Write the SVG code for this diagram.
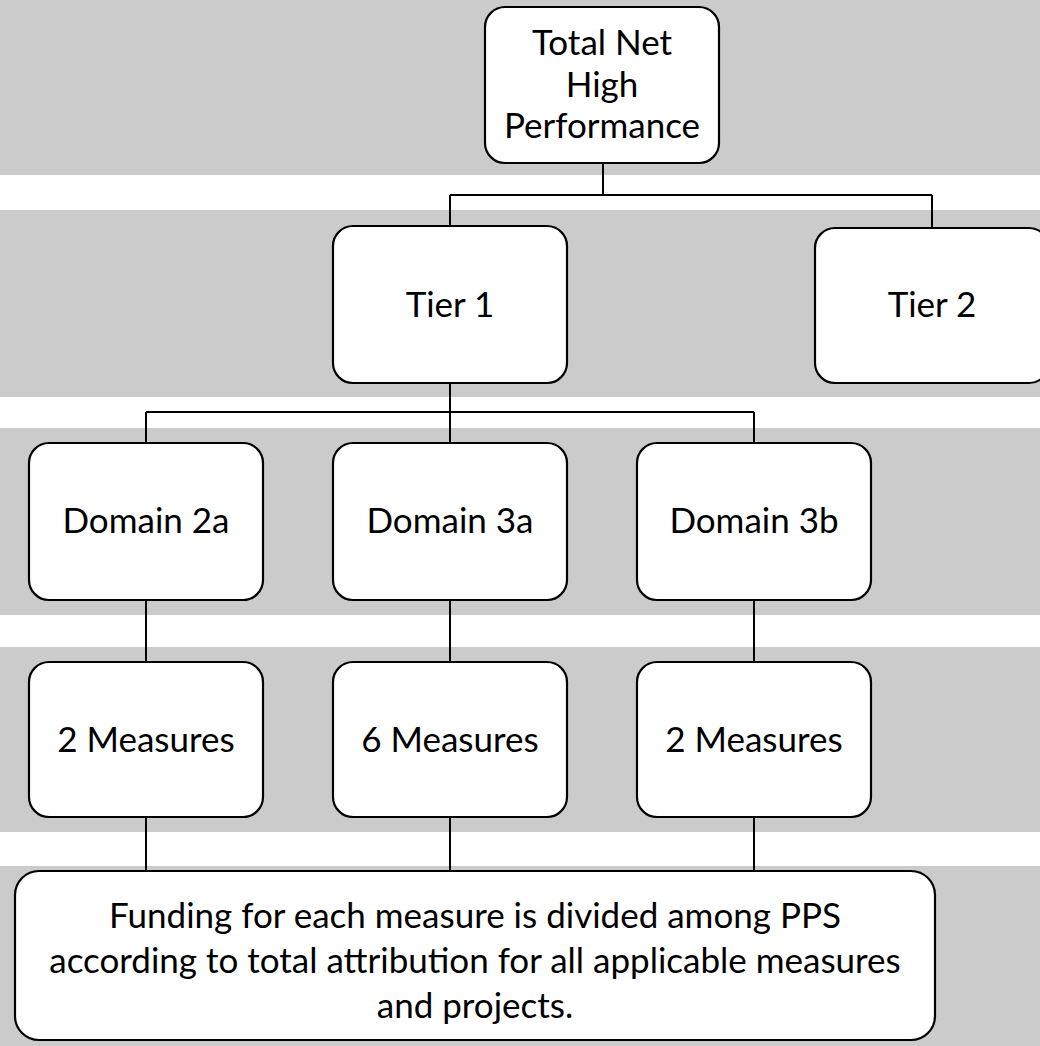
<svg xmlns="http://www.w3.org/2000/svg" width="1040" height="1046" viewBox="0 0 1040 1046">
<style>
.band{fill:#cbcbcb}
.node rect{fill:#ffffff;stroke:#000000;stroke-width:2.2}
.node text{font-family:Lato,"Open Sans","Liberation Sans",sans-serif;font-size:35px;fill:#000000;text-anchor:middle}
#connectors path{fill:none;stroke:#000000;stroke-width:2}
</style>
<rect width="1040" height="1046" fill="#ffffff"/>
<g id="bands">
<rect class="band" x="0" y="0" width="1040" height="175"/>
<rect class="band" x="0" y="210" width="1040" height="187"/>
<rect class="band" x="0" y="428" width="1040" height="187"/>
<rect class="band" x="0" y="647" width="1040" height="185"/>
<rect class="band" x="0" y="866" width="1040" height="180"/>
</g>
<g id="connectors">
<path d="M603 163 V195 M450 195 H932 M450 195 V226 M932 195 V228"/>
<path d="M450 383 V443 M146 412 H754 M146 412 V443 M754 412 V443"/>
<path d="M146 600 V662 M450 600 V662 M754 600 V662"/>
<path d="M146 817 V871 M450 817 V871 M754 817 V871"/>
</g>
<g id="node-total" class="node">
<rect x="485" y="7" width="234" height="156" rx="20"/>
<text x="602" y="55">Total Net</text>
<text x="602" y="96.5">High</text>
<text x="602" y="138">Performance</text>
</g>
<g id="node-tier1" class="node">
<rect x="333" y="226" width="234" height="157" rx="20"/>
<text x="450" y="317">Tier 1</text>
</g>
<g id="node-tier2" class="node">
<rect x="815" y="228" width="234" height="155" rx="20"/>
<text x="932" y="317">Tier 2</text>
</g>
<g id="node-domain2a" class="node">
<rect x="29" y="443" width="234" height="157" rx="20"/>
<text x="146" y="533">Domain 2a</text>
</g>
<g id="node-domain3a" class="node">
<rect x="333" y="443" width="234" height="157" rx="20"/>
<text x="450" y="533">Domain 3a</text>
</g>
<g id="node-domain3b" class="node">
<rect x="637" y="443" width="234" height="157" rx="20"/>
<text x="754" y="533">Domain 3b</text>
</g>
<g id="node-measures2a" class="node">
<rect x="29" y="662" width="234" height="155" rx="20"/>
<text x="146" y="752">2 Measures</text>
</g>
<g id="node-measures3a" class="node">
<rect x="333" y="662" width="234" height="155" rx="20"/>
<text x="450" y="752">6 Measures</text>
</g>
<g id="node-measures3b" class="node">
<rect x="637" y="662" width="234" height="155" rx="20"/>
<text x="754" y="752">2 Measures</text>
</g>
<g id="node-funding" class="node">
<rect x="15" y="871" width="920" height="169" rx="24"/>
<text x="475" y="928">Funding for each measure is divided among PPS</text>
<text x="475" y="973">according to total attribution for all applicable measures</text>
<text x="475" y="1018">and projects.</text>
</g>
</svg>
